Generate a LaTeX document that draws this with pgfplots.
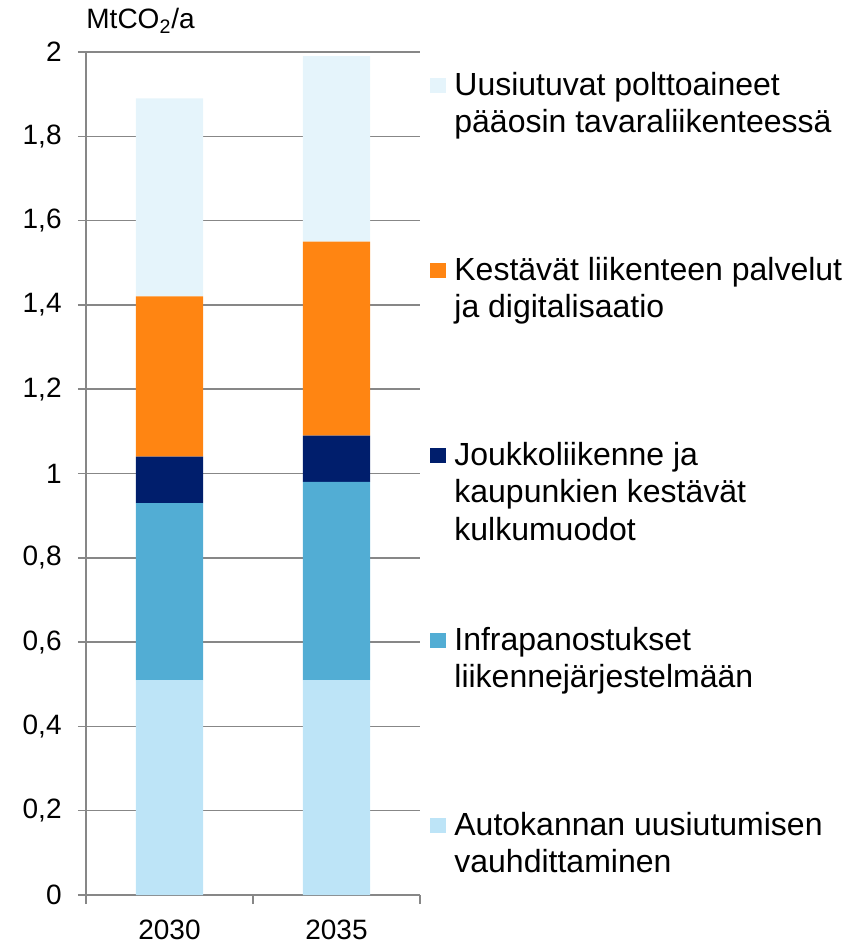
\documentclass[border=0pt]{standalone}
\usepackage{fontspec}
\setmainfont{Liberation Sans}
\usepackage{pgfplots}
\pgfplotsset{compat=1.18}
\definecolor{cPale}{HTML}{E5F4FB}
\definecolor{cOrange}{HTML}{FF8512}
\definecolor{cNavy}{HTML}{001E6C}
\definecolor{cMid}{HTML}{52ADD4}
\definecolor{cLight}{HTML}{BDE4F7}
\definecolor{cGrid}{HTML}{878787}
\pgfplotsset{sq/.style={legend image code/.code={\fill[##1,draw=none] (0pt,1pt) rectangle (8pt,8.5pt);}}}
\begin{document}
\begin{tikzpicture}[font=\fontsize{14}{18.75}\selectfont]
\path[use as bounding box] (-43pt,-23.5pt) rectangle (385pt,447.5pt);
\begin{axis}[
  scale only axis, clip=false,
  width=167pt, height=421.5pt,
  ybar stacked, bar width=33.5pt,
  xmin=-0.5, xmax=1.5, ymin=0, ymax=2,
  xtick={0,1}, xticklabels={2030,2035},
  minor xtick={-0.5,0.5,1.5},
  ytick={0,0.2,0.4,0.6,0.8,1,1.2,1.4,1.6,1.8,2},
  axis x line*=bottom, axis y line*=left,
  axis line style={draw=cGrid, line width=0.75pt, -},
  ymajorgrids, grid style={draw=cGrid, line width=0.75pt},
  tick align=outside,
  major tick length=4pt, minor tick length=4.5pt,
  major x tick style={draw=none},
  minor x tick style={draw=cGrid, line width=0.75pt},
  ytick style={draw=cGrid, line width=0.75pt},
  /pgf/number format/assume math mode=true,
  /pgf/number format/.cd, use comma, fixed, precision=1, /pgfplots/.cd,
  yticklabel style={inner sep=0pt, xshift=-8pt},
  xticklabel style={inner sep=0pt, yshift=-8.5pt},
  reverse legend,
  legend style={draw=none, fill=none, inner sep=0pt, row sep=0pt, column sep=4pt,
    at={(rel axis cs:1.02994,0.97746)}, anchor=north west,
    font=\fontsize{16}{18.75}\selectfont,
    cells={anchor=base west},
    nodes={inner sep=0pt, text height=12pt, text depth=80.5pt}},
]
\addplot[sq, fill=cLight, draw=none] coordinates {(0,0.51) (1,0.51)};
\addplot[sq, fill=cMid, draw=none] coordinates {(0,0.42) (1,0.47)};
\addplot[sq, fill=cNavy, draw=none] coordinates {(0,0.11) (1,0.11)};
\addplot[sq, fill=cOrange, draw=none] coordinates {(0,0.38) (1,0.46)};
\addplot[sq, fill=cPale, draw=none] coordinates {(0,0.47) (1,0.44)};
\legend{\parbox[t]{220pt}{Autokannan uusiutumisen\\vauhdittaminen},
  \parbox[t]{220pt}{Infrapanostukset\\liikennejärjestelmään},
  \parbox[t]{220pt}{Joukkoliikenne ja\\kaupunkien kestävät\\kulkumuodot},
  \parbox[t]{220pt}{Kestävät liikenteen palvelut\\ja digitalisaatio},
  \parbox[t]{220pt}{Uusiutuvat polttoaineet\\pääosin tavaraliikenteessä}}
\node[anchor=base west, inner sep=0pt] at (rel axis cs:0,1) [yshift=11.5pt] {MtCO\textsubscript{2}/a};
\end{axis}
\end{tikzpicture}
\end{document}
